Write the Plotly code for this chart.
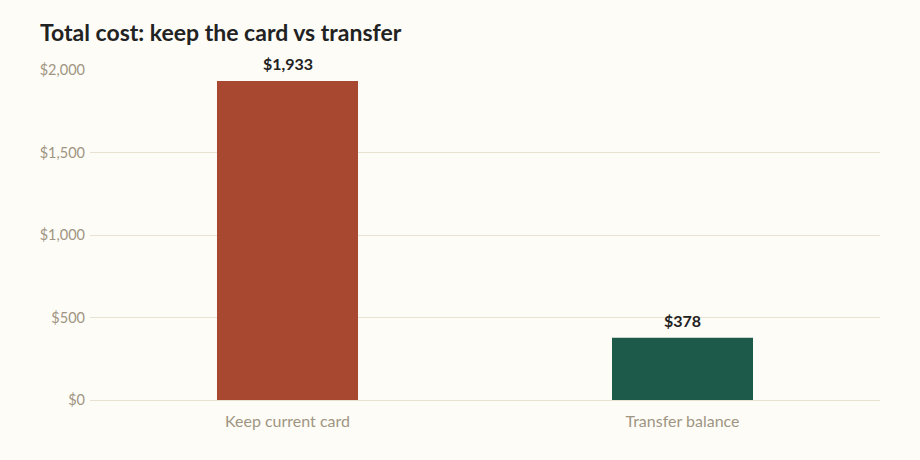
import plotly.graph_objects as go

categories = ["Keep current card", "Transfer balance"]
total_cost = [1933, 378]
bar_colors = ["#a84830", "#1d5a4a"]
tick_values = [0, 500, 1000, 1500, 2000]
tick_labels = ["$0", "$500", "$1,000", "$1,500", "$2,000"]

fig = go.Figure()
fig.add_trace(go.Bar(
    x=categories,
    y=total_cost,
    marker=dict(color=bar_colors, line=dict(width=0)),
    hoverinfo="skip",
))

# value labels sit a little higher above the bars than plotly's outside text
for cat, val in zip(categories, total_cost):
    fig.add_annotation(
        x=cat, y=val, text=f"<b>${val:,}</b>",
        showarrow=False, yanchor="bottom", yshift=6,
        font=dict(family="Lato", size=16, color="#222222"),
    )

fig.update_layout(
    width=920,
    height=460,
    paper_bgcolor="#fdfcf7",
    plot_bgcolor="#fdfcf7",
    font=dict(family="Lato", color="#a09582"),
    title=dict(
        text="<b>Total cost: keep the card vs transfer</b>",
        x=40 / 920, xanchor="left",
        y=1 - 33 / 460, yanchor="middle",
        font=dict(family="Lato", size=23, color="#222222"),
    ),
    margin=dict(l=90, r=40, t=70, b=60),
    bargap=0.643,
    showlegend=False,
    xaxis=dict(
        showgrid=False,
        showline=False,
        ticks="",
        ticklabelstandoff=10,
        tickfont=dict(size=16, color="#a09582"),
    ),
    yaxis=dict(
        range=[0, 2000],
        tickvals=tick_values,
        ticktext=tick_labels,
        showgrid=True,
        gridcolor="#e9e2d3",
        gridwidth=1,
        zeroline=True,
        zerolinecolor="#e9e2d3",
        zerolinewidth=1,
        ticks="",
        ticklabelstandoff=4,
        tickfont=dict(size=14.5, color="#a09582"),
    ),
)

fig.write_html(
    "out.html",
    config={"displayModeBar": False},
    post_script="document.body.style.margin='0';"
                "document.body.style.background='#fdfcf7';",
)
